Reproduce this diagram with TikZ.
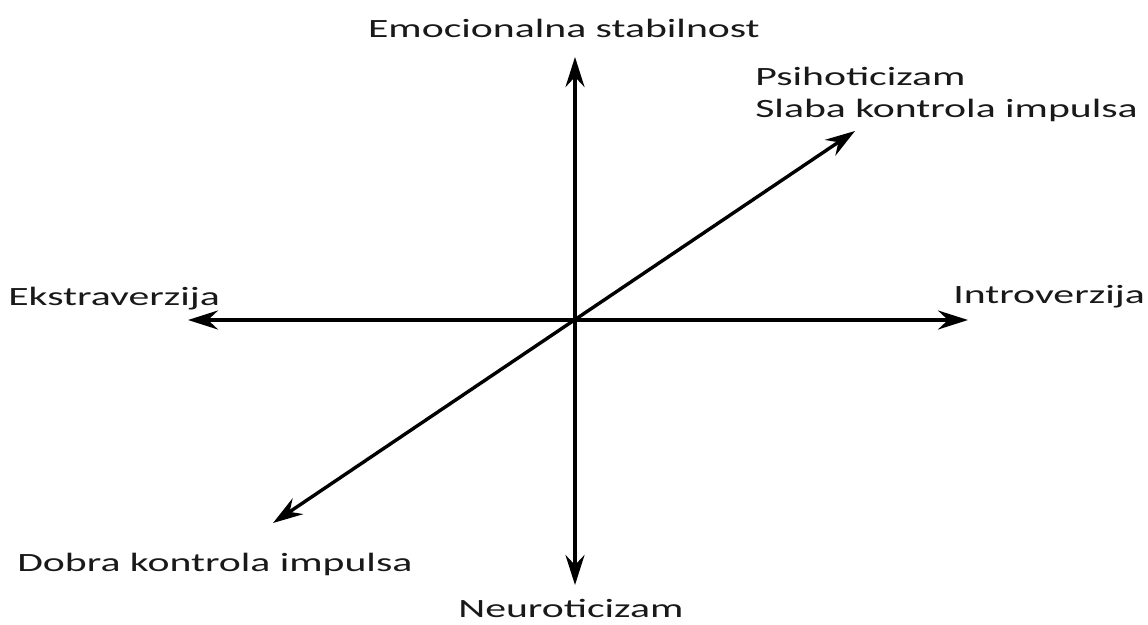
\documentclass[tikz,border=0pt]{standalone}
\usepackage{fontspec}
\setmainfont{Carlito}
\usetikzlibrary{arrows.meta}

\begin{document}
\begin{tikzpicture}[x=1pt, y=-1pt,
    every node/.style={font=\fontsize{26.4}{32}\selectfont, text=black!90, inner sep=0pt, xscale=1.58},
    axis/.style={line width=3.4pt, black,
      {Stealth[length=30pt, width=19pt, inset=10pt]}-{Stealth[length=30pt, width=19pt, inset=10pt]}}]
    \useasboundingbox (0,0) rectangle (1148,624);

    % Krajevi osa
    \coordinate (O) at (575,320);
    \coordinate (gore) at (575,57);
    \coordinate (dole) at (575,585);
    \coordinate (levo) at (188,320);
    \coordinate (desno) at (968,320);
    \coordinate (gd) at (855,131);
    \coordinate (dl) at (273,523);

    % Ose
    \draw[axis] (dole) -- (gore);
    \draw[axis] (levo) -- (desno);
    \draw[axis] (dl) -- (gd);

    % Natpisi
    \node (stab) [anchor=base] at (564,37) {Emocionalna stabilnost};
    \node (neuro) [anchor=base west] at (458,617) {Neuroticizam};
    \node (ekstra) [anchor=base west] at (8,305) {Ekstraverzija};
    \node (intro) [anchor=base west] at (953,303) {Introverzija};
    \node (psi) [anchor=base west] at (755,85) {Psihoticizam};
    \node (slaba) [anchor=base west] at (755,117) {Slaba kontrola impulsa};
    \node (dobra) [anchor=base west] at (17,571) {Dobra kontrola impulsa};
\end{tikzpicture}
\end{document}
